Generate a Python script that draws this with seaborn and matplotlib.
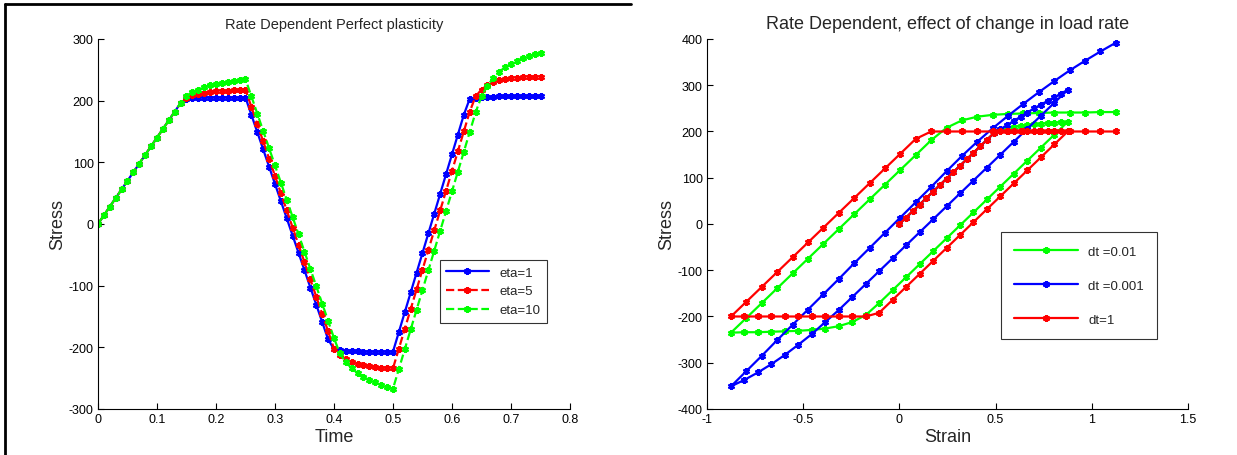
import numpy as np
import pandas as pd
import matplotlib
matplotlib.use("Agg")
import matplotlib.pyplot as plt
import seaborn as sns
from matplotlib.lines import Line2D

sns.set_theme(style="white")
plt.rcParams['font.family'] = ['Liberation Sans', 'DejaVu Sans']
plt.rcParams['axes.unicode_minus'] = False

# ---- left panel: stress vs time (dt = 0.01) ----
time = [0.00, 0.01, 0.02, 0.03, 0.04, 0.05, 0.06, 0.07, 0.08, 0.09,
        0.10, 0.11, 0.12, 0.13, 0.14, 0.15, 0.16, 0.17, 0.18, 0.19,
        0.20, 0.21, 0.22, 0.23, 0.24, 0.25, 0.26, 0.27, 0.28, 0.29,
        0.30, 0.31, 0.32, 0.33, 0.34, 0.35, 0.36, 0.37, 0.38, 0.39,
        0.40, 0.41, 0.42, 0.43, 0.44, 0.45, 0.46, 0.47, 0.48, 0.49,
        0.50, 0.51, 0.52, 0.53, 0.54, 0.55, 0.56, 0.57, 0.58, 0.59,
        0.60, 0.61, 0.62, 0.63, 0.64, 0.65, 0.66, 0.67, 0.68, 0.69,
        0.70, 0.71, 0.72, 0.73, 0.74, 0.75]

stress_eta1 = [0, 14, 28, 42, 56, 70, 84, 98, 112, 126,
               140, 154, 168, 182, 196, 203, 204, 205, 205, 205,
               205, 205, 205, 205, 205, 205, 177, 149, 121, 93,
               65, 37, 9, -19, -47, -75, -103, -131, -159, -187,
               -203, -205, -206, -206, -206, -207, -207, -207, -207, -207,
               -207, -175, -143, -111, -79, -47, -15, 17, 49, 81,
               113, 145, 177, 203, 205, 206, 206, 206, 207, 207,
               207, 207, 207, 207, 207, 207]

stress_eta5 = [0, 14, 28, 42, 56, 70, 84, 98, 112, 126,
               140, 154, 168, 182, 196, 205, 209, 211, 213, 214,
               215, 216, 216, 217, 217, 218, 190, 162, 134, 106,
               78, 50, 22, -6, -34, -62, -90, -118, -146, -174,
               -202, -212, -219, -224, -227, -229, -231, -232, -233, -233,
               -234, -202, -170, -138, -106, -74, -42, -10, 22, 54,
               86, 118, 150, 182, 207, 218, 225, 230, 233, 235,
               236, 237, 238, 238, 239, 239]

stress_eta10 = [0, 14, 28, 42, 56, 70, 84, 98, 112, 126,
                140, 154, 168, 182, 196, 208, 214, 218, 222, 225,
                227, 229, 231, 232, 234, 235, 207, 179, 151, 123,
                95, 67, 39, 11, -17, -45, -73, -101, -129, -157,
                -185, -210, -224, -234, -242, -248, -253, -257, -261, -264,
                -267, -235, -203, -171, -139, -107, -75, -43, -11, 21,
                53, 85, 117, 149, 181, 207, 224, 237, 247, 254,
                260, 265, 269, 272, 275, 277]

# ---- right panel: stress vs strain for three load rates ----
strain = [0.000, 0.035, 0.070, 0.105, 0.140, 0.175, 0.210, 0.245, 0.280, 0.315,
          0.350, 0.385, 0.420, 0.455, 0.490, 0.525, 0.560, 0.595, 0.630, 0.665,
          0.700, 0.735, 0.770, 0.805, 0.840, 0.875,
          0.805, 0.735, 0.665, 0.595, 0.525, 0.455, 0.385, 0.315, 0.245, 0.175,
          0.105, 0.035, -0.035, -0.105, -0.175, -0.245, -0.315, -0.385, -0.455, -0.525,
          -0.595, -0.665, -0.735, -0.805, -0.875,
          -0.795, -0.715, -0.635, -0.555, -0.475, -0.395, -0.315, -0.235, -0.155, -0.075,
          0.005, 0.085, 0.165, 0.245, 0.325, 0.405, 0.485, 0.565, 0.645, 0.725,
          0.805, 0.885, 0.965, 1.045, 1.125]

stress_dt001 = [0, 14, 28, 42, 56, 70, 84, 98, 112, 126,
                140, 154, 168, 182, 196, 203, 207, 210, 212, 214,
                216, 217, 218, 219, 220, 221,
                193, 165, 137, 109, 81, 53, 25, -3, -31, -59,
                -87, -115, -143, -171, -197, -212, -221, -226, -229, -231,
                -232, -233, -234, -234, -235,
                -203, -171, -139, -107, -75, -43, -11, 21, 53, 85,
                117, 149, 181, 208, 224, 232, 236, 238, 239, 240,
                241, 241, 241, 242, 242]

stress_dt0001 = [0, 14, 28, 42, 56, 70, 84, 98, 112, 126,
                 140, 154, 168, 182, 196, 205, 214, 223, 232, 241,
                 250, 258, 266, 274, 282, 290,
                 262, 234, 206, 178, 150, 122, 94, 66, 38, 10,
                 -18, -46, -74, -102, -130, -158, -186, -212, -238, -261,
                 -283, -303, -321, -337, -351,
                 -318, -285, -251, -218, -185, -152, -119, -85, -52, -19,
                 14, 47, 80, 114, 147, 178, 207, 234, 260, 285,
                 309, 332, 353, 373, 392]

stress_dt1 = [0, 14, 28, 42, 56, 70, 84, 98, 112, 126,
              140, 154, 168, 182, 196, 200, 200, 200, 200, 200,
              200, 200, 200, 200, 200, 200,
              172, 144, 116, 88, 60, 32, 4, -24, -52, -80,
              -108, -136, -164, -192, -200, -200, -200, -200, -200, -200,
              -200, -200, -200, -200, -200,
              -168, -136, -104, -72, -40, -8, 24, 56, 88, 120,
              152, 184, 200, 200, 200, 200, 200, 200, 200, 200,
              200, 200, 200, 200, 200]

fig = plt.figure(figsize=(12.37, 4.56), dpi=100)
ax1 = fig.add_axes([0.0792, 0.1009, 0.3816, 0.8114])
ax2 = fig.add_axes([0.5715, 0.1009, 0.3889, 0.8114])

star = (6, 2, 0)
common = dict(marker=star, markersize=5, markeredgewidth=1.6, linewidth=1.6,
              sort=False, estimator=None)

left_series = [("eta=1", stress_eta1, "#0000ff", "-"),
               ("eta=5", stress_eta5, "#ff0000", "--"),
               ("eta=10", stress_eta10, "#00ff00", "--")]
for name, vals, col, ls in left_series:
    sns.lineplot(x=time, y=vals, ax=ax1, color=col, linestyle=ls,
                 markeredgecolor=col, label=name, **common)

right_series = [("dt =0.01", stress_dt001, "#00ff00"),
                ("dt =0.001", stress_dt0001, "#0000ff"),
                ("dt=1", stress_dt1, "#ff0000")]
for name, vals, col in right_series:
    sns.lineplot(x=strain, y=vals, ax=ax2, color=col, linestyle="-",
                 markeredgecolor=col, label=name, **common)

ax1.set_xlim(0, 0.8)
ax1.set_ylim(-300, 300)
ax1.set_xticks(np.arange(0, 0.81, 0.1))
ax1.set_yticks(np.arange(-300, 301, 100))
ax1.set_xticklabels(["0", "0.1", "0.2", "0.3", "0.4", "0.5", "0.6", "0.7", "0.8"])
ax1.set_title("Rate Dependent Perfect plasticity", fontsize=10.5, pad=8)
ax1.set_xlabel("Time", fontsize=13, labelpad=2)
ax1.set_ylabel("Stress", fontsize=13, labelpad=2)

ax2.set_xlim(-1, 1.5)
ax2.set_ylim(-400, 400)
ax2.set_xticks([-1, -0.5, 0, 0.5, 1, 1.5])
ax2.set_xticklabels(["-1", "-0.5", "0", "0.5", "1", "1.5"])
ax2.set_yticks(np.arange(-400, 401, 100))
ax2.set_title("Rate Dependent, effect of change in load rate", fontsize=13, pad=8)
ax2.set_xlabel("Strain", fontsize=13, labelpad=2)
ax2.set_ylabel("Stress", fontsize=13, labelpad=2)

for ax in (ax1, ax2):
    sns.despine(ax=ax)
    for sp in ("left", "bottom"):
        ax.spines[sp].set_color("black")
        ax.spines[sp].set_linewidth(0.8)
    ax.tick_params(direction="in", length=4, width=0.8, labelsize=9,
                   colors="black", left=True, bottom=True, pad=3)
    ax.grid(False)

leg1 = ax1.legend(loc="lower left", bbox_to_anchor=(0.71, 0.215), fontsize=9.5,
                  frameon=True, fancybox=False, edgecolor="black",
                  handlelength=3.2, borderpad=0.5, labelspacing=0.5)
leg1.get_frame().set_linewidth(0.8)

leg2 = ax2.legend(loc="upper left", bbox_to_anchor=(0.598, 0.495), fontsize=9.5,
                  frameon=True, fancybox=False, edgecolor="black",
                  handlelength=4.8, borderpad=1.0, labelspacing=1.65)
leg2.get_frame().set_linewidth(0.8)

# screenshot frame edges
fig.add_artist(Line2D([0.004, 0.004], [0.0, 0.99], color="black", linewidth=2,
                      transform=fig.transFigure))
fig.add_artist(Line2D([0.004, 0.51], [0.99, 0.99], color="black", linewidth=2,
                      transform=fig.transFigure))

fig.savefig("out.png", dpi=100)
